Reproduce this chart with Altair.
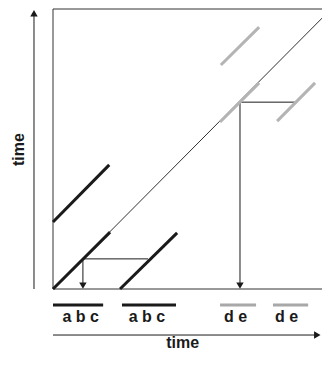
import altair as alt
import pandas as pd

# ---- data (abstract "time" units) ----
# thick black "a b c" segments
abc_x1 = [0.00, 0.00, 2.42]
abc_y1 = [2.40, 0.00, 0.00]
abc_x2 = [2.03, 2.06, 4.48]
abc_y2 = [4.45, 2.04, 2.01]
# thick grey "d e" segments
de_x1 = [6.03, 6.06, 8.09]
de_y1 = [5.99, 8.03, 6.02]
de_x2 = [7.44, 7.44, 9.46]
de_y2 = [7.39, 9.39, 7.39]
# diagonal (identity)
diag_x = [0.0, 10.0]
diag_y = [0.0, 10.0]
# connectors: corner on diagonal, horizontal end
conn_x = [1.08, 6.75]
conn_y = [1.08, 6.70]
conn_xend = [3.43, 8.77]
# bottom bars and labels
bar_x1 = [0.00, 2.49, 6.03, 7.94]
bar_x2 = [1.81, 4.44, 7.33, 9.21]
bar_kind = ["abc", "abc", "de", "de"]
label_text = ["a b c", "a b c", "d e", "d e"]
label_x = [1.00, 3.39, 6.59, 8.43]

YMAX = 10.04
XMAX = 9.71          # visible part of the time axis
BLACK = "#1a1a1a"
GREY = "#b4b4b4"
LINE = "#333333"

BAR_Y = -0.574
LABEL_Y = -1.18
ARROW_Y = -1.65
TITLE_Y = -2.115

rows = []
def seg(x, y, x2, y2, color, width):
    rows.append(dict(x=x, y=y, x2=x2, y2=y2, color=color, width=width))

# frame (top, left, bottom)
seg(0, YMAX, 10.2, YMAX, LINE, 1)
seg(0, 0, 0, YMAX, LINE, 1)
seg(0, 0, 10.2, 0, LINE, 1)
# diagonal
seg(diag_x[0], diag_y[0], diag_x[1], diag_y[1], BLACK, 0.9)
# connectors
for cx, cy, ce in zip(conn_x, conn_y, conn_xend):
    seg(cx, cy, ce, cy, BLACK, 1)
    seg(cx, cy, cx, 0.15, BLACK, 1)
# thick segments
for a, b, c, d in zip(abc_x1, abc_y1, abc_x2, abc_y2):
    seg(a, b, c, d, BLACK, 3)
for a, b, c, d in zip(de_x1, de_y1, de_x2, de_y2):
    seg(a, b, c, d, GREY, 3)
# bottom bars
for a, b, k in zip(bar_x1, bar_x2, bar_kind):
    seg(a, BAR_Y, b, BAR_Y, BLACK if k == "abc" else "#a8a8a8", 3)
# axis arrows
seg(-0.686, 0, -0.686, 9.85, BLACK, 1)
seg(0, ARROW_Y, 9.5, ARROW_Y, BLACK, 1)

segs = pd.DataFrame(rows)

xs = alt.Scale(domain=[0, XMAX], nice=False, zero=False)
ys = alt.Scale(domain=[0, YMAX], nice=False, zero=False)

lines = alt.Chart(segs).mark_rule(strokeCap="butt").encode(
    x=alt.X("x:Q", scale=xs, axis=None),
    y=alt.Y("y:Q", scale=ys, axis=None),
    x2="x2:Q",
    y2="y2:Q",
    color=alt.Color("color:N", scale=None),
    strokeWidth=alt.StrokeWidth("width:Q", scale=None),
)

heads = pd.DataFrame(dict(
    x=[conn_x[0], conn_x[1], -0.686, 9.54],
    y=[0.12, 0.12, 9.89, ARROW_Y],
    shape=["triangle-down", "triangle-down", "triangle-up", "triangle-right"],
))
arrows = alt.Chart(heads).mark_point(filled=True, size=55, opacity=1, color=BLACK).encode(
    x=alt.X("x:Q", scale=xs, axis=None),
    y=alt.Y("y:Q", scale=ys, axis=None),
    shape=alt.Shape("shape:N", scale=None),
)

labels = alt.Chart(pd.DataFrame(dict(x=label_x, y=[LABEL_Y] * 4, t=label_text))).mark_text(
    font="Liberation Sans", fontWeight="bold", fontSize=16, baseline="alphabetic", align="center", color=BLACK
).encode(
    x=alt.X("x:Q", scale=xs, axis=None),
    y=alt.Y("y:Q", scale=ys, axis=None),
    text="t:N",
)

xtitle = alt.Chart(pd.DataFrame(dict(x=[4.68], y=[TITLE_Y], t=["time"]))).mark_text(
    font="Liberation Sans", fontWeight="bold", fontSize=16, baseline="alphabetic", align="center", color=BLACK
).encode(
    x=alt.X("x:Q", scale=xs, axis=None),
    y=alt.Y("y:Q", scale=ys, axis=None),
    text="t:N",
)

ytitle = alt.Chart(pd.DataFrame(dict(x=[-1.05], y=[5.0], t=["time"]))).mark_text(
    font="Liberation Sans", fontWeight="bold", fontSize=16, baseline="alphabetic", align="center",
    angle=270, color=BLACK
).encode(
    x=alt.X("x:Q", scale=xs, axis=None),
    y=alt.Y("y:Q", scale=ys, axis=None),
    text="t:N",
)

chart = alt.layer(lines, arrows, labels, xtitle, ytitle).properties(
    width=269,
    height=280,
    autosize=alt.AutoSizeParams(type="none"),
    padding={"left": 45, "top": 1, "right": 0, "bottom": 64},
).configure_view(stroke=None)

chart.save("out.html", embed_options={"renderer": "svg", "actions": False})
